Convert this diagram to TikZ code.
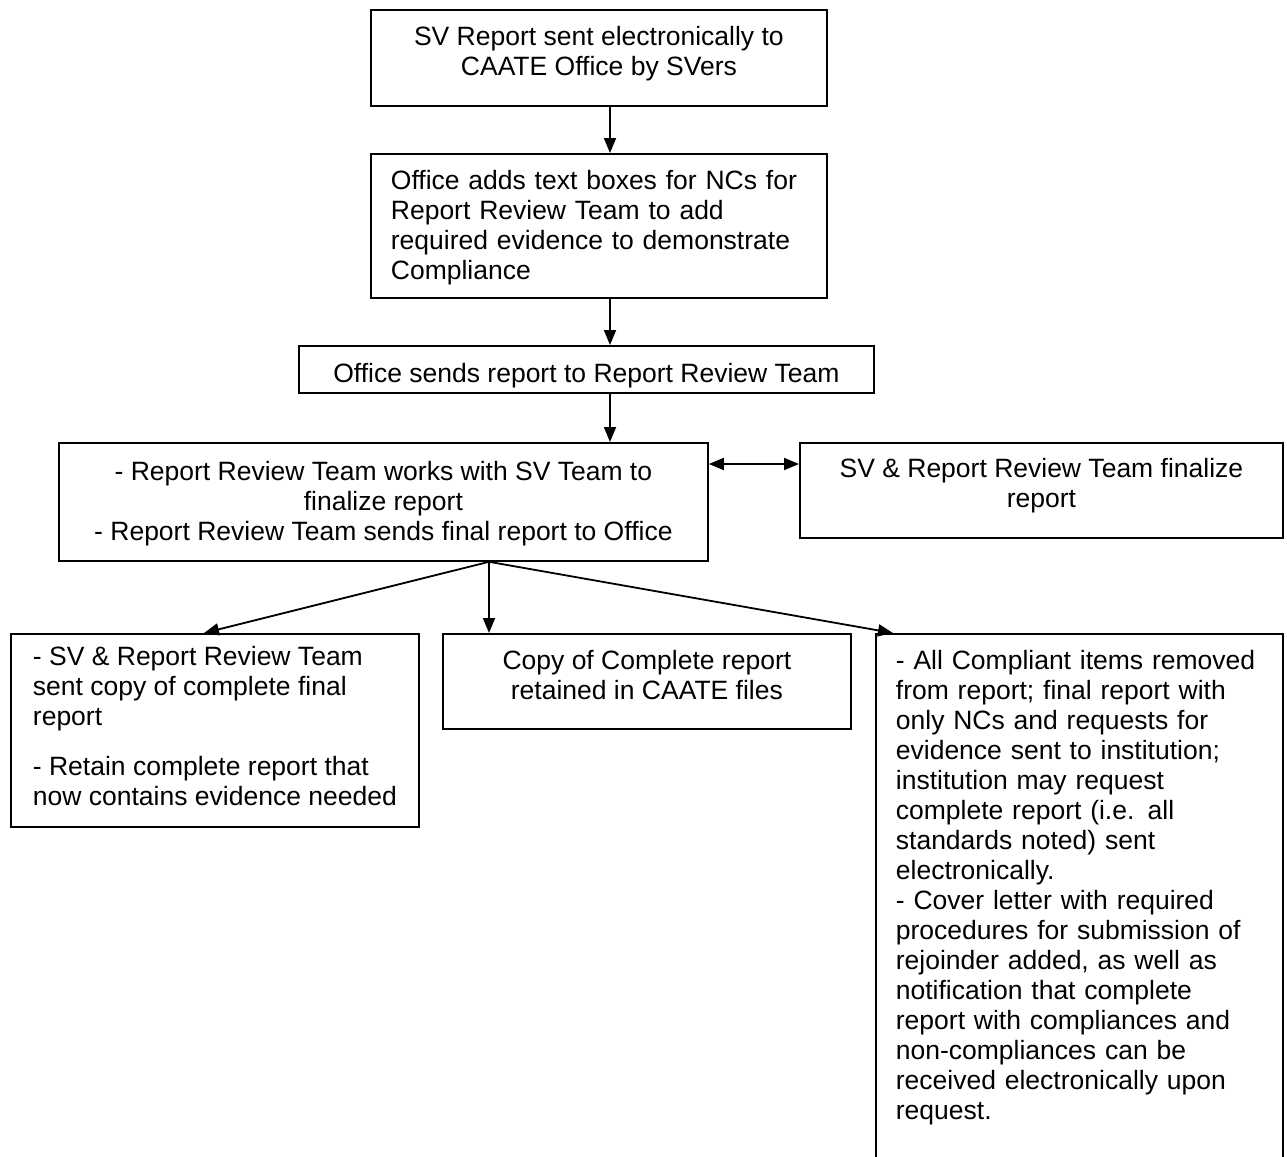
\documentclass[tikz,border=0pt]{standalone}
\usepackage{fontspec}
\setmainfont{Liberation Sans}
\usetikzlibrary{arrows.meta}
\newcommand{\TS}[1]{\rule{0pt}{#1}}
\newcommand{\BS}[1]{\rule[-#1]{0pt}{#1}}
\begin{document}
\begin{tikzpicture}[x=1pt,y=-1pt,
  box/.style={draw, line width=1.8pt, inner ysep=0pt, anchor=north west,
    font=\fontsize{26.5}{30}\selectfont},
  arr/.style={line width=1.8pt, -{Triangle[length=15pt,width=12pt]}},
  darr/.style={line width=1.8pt, {Triangle[length=15pt,width=12pt]}-{Triangle[length=15pt,width=12pt]}}]
\useasboundingbox (0,0) rectangle (1287,1156);
\clip (0,0) rectangle (1287,1156);
\fill[white] (0,0) rectangle (1287,1156);

\node[box, minimum width=456pt, inner xsep=0pt, align=center] (b1) at (370,9)
  {\TS{36pt}SV Report sent electronically to\\CAATE Office by SVers\BS{30pt}};
\node[box, text width=416pt, inner xsep=20pt, align=left] (b2) at (370,153)
  {\TS{36pt}Office adds text boxes for NCs for\\Report Review Team to add\\required evidence to demonstrate\\Compliance\BS{18pt}};
\node[box, minimum width=575pt, inner xsep=0pt, align=center] (b3) at (298,345)
  {\TS{37pt}Office sends report to Report Review Team\BS{10pt}};
\node[box, minimum width=649pt, inner xsep=0pt, align=center] (b4) at (58,442)
  {\TS{38pt}- Report Review Team works with SV Team to\\finalize report\\- Report Review Team sends final report to Office\BS{20pt}};
\node[box, minimum width=483pt, inner xsep=0pt, align=center] (b5) at (799,442)
  {\TS{35pt}SV \& Report Review Team finalize\\report\BS{30pt}};
\node[box, minimum width=408pt, inner xsep=0pt, align=left] (b6) at (10,633)
  {\TS{32pt}- SV \& Report Review Team\\sent copy of complete final\\report\\[20pt]- Retain complete report that\\now contains evidence needed\BS{21pt}};
\node[box, minimum width=408pt, inner xsep=0pt, align=center] (b7) at (442,633)
  {\TS{36pt}Copy of Complete report\\retained in CAATE files\BS{29pt}};
\node[box, text width=367pt, inner xsep=20pt, align=left] (b8) at (875,633)
  {\TS{36pt}- All Compliant items removed\\from report; final report with\\only NCs and requests for\\evidence sent to institution;\\institution may request\\complete report (i.e. all\\standards noted) sent\\electronically.\\- Cover letter with required\\procedures for submission of\\rejoinder added, as well as\\notification that complete\\report with compliances and\\non-compliances can be\\received electronically upon\\request.\BS{80pt}};

\coordinate (vx) at (610,0);
\coordinate (hy) at (0,464);
\coordinate (fs) at (489,0);
\coordinate (t6) at (204,0);
\coordinate (t8) at (893,0);

\draw[arr] (b1.south -| vx) -- (b2.north -| vx);
\draw[arr] (b2.south -| vx) -- (b3.north -| vx);
\draw[arr] (b3.south -| vx) -- (b4.north -| vx);
\draw[darr] (b4.east |- hy) -- (b5.west |- hy);
\draw[arr] (b4.south -| fs) -- (b6.north -| t6);
\draw[arr] (b4.south -| fs) -- (b7.north -| fs);
\draw[arr] (b4.south -| fs) -- (b8.north -| t8);
\end{tikzpicture}
\end{document}
